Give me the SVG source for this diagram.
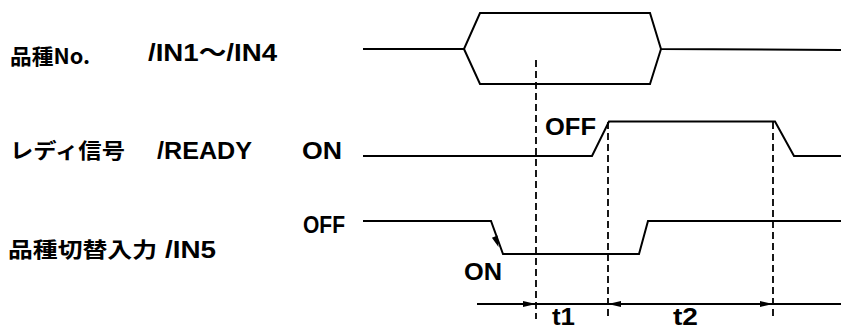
<svg xmlns="http://www.w3.org/2000/svg" width="844" height="329" viewBox="0 0 844 329">
<style>
.lbl{font-family:"Liberation Sans","Noto Sans CJK JP",sans-serif;font-weight:bold;font-size:24px;fill:#000}
.cjk{font-family:"Noto Sans CJK JP","Liberation Sans",sans-serif;font-weight:bold;font-size:21px;fill:#000}
.sig{fill:none;stroke:#000;stroke-width:2;stroke-linejoin:miter}
.dash{fill:none;stroke:#000;stroke-width:1.8;stroke-dasharray:7 4}
.ah{fill:#000;stroke:none}
</style>
<rect width="844" height="329" fill="#fff"/>
<g id="labels">
<text class="cjk" x="10" y="64" textLength="80" lengthAdjust="spacingAndGlyphs">品種No.</text>
<text class="lbl" x="148" y="61" textLength="129" lengthAdjust="spacingAndGlyphs">/IN1〜/IN4</text>
<text class="cjk" x="10" y="158" textLength="115" lengthAdjust="spacingAndGlyphs">レディ信号</text>
<text class="lbl" x="157" y="159" textLength="95" lengthAdjust="spacingAndGlyphs">/READY</text>
<text class="cjk" x="8" y="257" textLength="149" lengthAdjust="spacingAndGlyphs">品種切替入力</text>
<text class="lbl" x="165" y="258" textLength="51" lengthAdjust="spacingAndGlyphs">/IN5</text>
</g>
<g id="sig-in1-in4">
<path class="sig" d="M363,49 L464,49 L480,13 L650,13 L661,49 L841,50"/>
<path class="sig" d="M464,49 L480,84 L650,84 L661,49"/>
</g>
<g id="sig-ready">
<text class="lbl" x="302" y="159" textLength="40" lengthAdjust="spacingAndGlyphs">ON</text>
<text class="lbl" x="545" y="135" textLength="51" lengthAdjust="spacingAndGlyphs">OFF</text>
<path class="sig" d="M363,156 L592,156 L609,121.5 L775,121.5 L794,156 L841,156"/>
</g>
<g id="sig-in5">
<text class="lbl" x="303" y="233" textLength="42" lengthAdjust="spacingAndGlyphs">OFF</text>
<text class="lbl" x="464" y="280" textLength="38" lengthAdjust="spacingAndGlyphs">ON</text>
<path class="sig" d="M363,221 L491,221 L503,254 L639,254 L648,221 L841,221"/>
<polygon class="ah" points="498.5,247 497.5,235.6 491.9,237.7"/>
</g>
<g id="connectors">
<line class="dash" x1="536" y1="60" x2="536" y2="319"/>
<line class="dash" x1="608" y1="122" x2="608" y2="319"/>
<line class="dash" x1="773" y1="122" x2="773" y2="319"/>
<line class="sig" x1="477" y1="304" x2="841" y2="304" stroke-width="1.8"/>
<polygon class="ah" points="536,304 523,301 523,307"/>
<polygon class="ah" points="608,304 621,301 621,307"/>
<polygon class="ah" points="773,304 760,301 760,307"/>
</g>
<g id="time-labels">
<text class="lbl" x="552" y="325" textLength="23" lengthAdjust="spacingAndGlyphs">t1</text>
<text class="lbl" x="673" y="325" textLength="25" lengthAdjust="spacingAndGlyphs">t2</text>
</g>
</svg>
